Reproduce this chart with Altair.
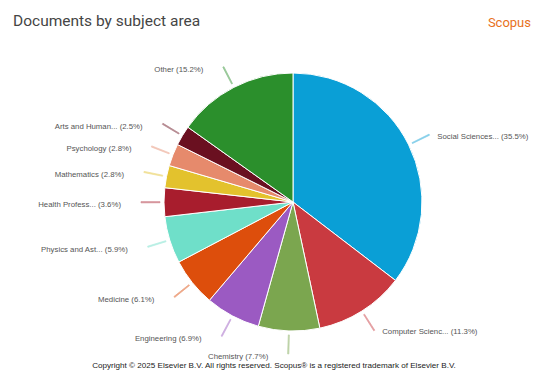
import altair as alt
import pandas as pd

subjects = ["Social Sciences", "Computer Science", "Chemistry", "Engineering", "Medicine",
            "Physics and Astronomy", "Health Professions", "Mathematics", "Psychology",
            "Arts and Humanities", "Other"]
labels = ["Social Sciences...", "Computer Scienc...", "Chemistry", "Engineering", "Medicine",
          "Physics and Ast...", "Health Profess...", "Mathematics", "Psychology",
          "Arts and Human...", "Other"]
shares = [35.5, 11.3, 7.7, 6.9, 6.1, 5.9, 3.6, 2.8, 2.8, 2.5, 15.2]
colors = ["#0a9fd6", "#c93a40", "#7ba64f", "#9b5ac2", "#dd4e0c", "#6fdfc9",
          "#a81d2d", "#e3c22d", "#e68a6c", "#6a1020", "#2b8f2c"]

title_text = "Documents by subject area"
brand_text = "Scopus"
footer_text = "Copyright \u00a9 2025 Elsevier B.V. All rights reserved. Scopus\u00ae is a registered trademark of Elsevier B.V."

df = pd.DataFrame({"subject": subjects, "label": labels, "share": shares,
                   "idx": list(range(len(subjects)))})
total = sum(shares)

CX, CY, R = 293, 202, 129
FONT = "Roboto"
SMALL = "Liberation Sans"

color_scale = alt.Scale(domain=subjects, range=colors)
theta_scale = alt.Scale(domain=[0, total])

base = (
    alt.Chart(df)
    .transform_window(cum="sum(share)", sort=[alt.SortField("idx")], frame=[None, 0])
    .transform_calculate(
        mid="datum.cum - datum.share / 2",
        lab="datum.label + ' (' + format(datum.share, '.1f') + '%)'",
    )
)

pie = base.mark_arc(outerRadius=R, stroke="white", strokeWidth=1).encode(
    theta=alt.Theta("share:Q", stack=True, scale=theta_scale),
    color=alt.Color("subject:N", scale=color_scale, legend=None),
    order=alt.Order("idx:Q"),
    x=alt.value(CX),
    y=alt.value(CY),
)

leaders = (
    base.transform_calculate(t1="datum.mid - 0.06", t2="datum.mid + 0.06")
    .mark_arc(radius=152, radius2=133, strokeWidth=0.8, opacity=0.5)
    .encode(
        theta=alt.Theta("t1:Q", stack=False, scale=theta_scale),
        theta2="t2:Q",
        color=alt.Color("subject:N", scale=color_scale, legend=None),
        stroke=alt.Stroke("subject:N", scale=color_scale, legend=None),
        x=alt.value(CX),
        y=alt.value(CY),
    )
)

half = total / 2
text_right = base.mark_text(align="left", baseline="middle", dx=8, dy=2, fontSize=7.8,
                            color="#555555", font=SMALL).encode(
    theta=alt.Theta("share:Q", stack=True, scale=theta_scale),
    order=alt.Order("idx:Q"),
    radius=alt.value(152),
    text=alt.condition(f"datum.mid < {half}", alt.Text("lab:N"), alt.value("")),
    x=alt.value(CX),
    y=alt.value(CY),
)

text_left = base.mark_text(align="right", baseline="middle", dx=-20, dy=3, fontSize=7.8,
                           color="#555555", font=SMALL).encode(
    theta=alt.Theta("share:Q", stack=True, scale=theta_scale),
    order=alt.Order("idx:Q"),
    radius=alt.value(152),
    text=alt.condition(f"datum.mid >= {half}", alt.Text("lab:N"), alt.value("")),
    x=alt.value(CX),
    y=alt.value(CY),
)

one = pd.DataFrame({"t": [0]})
title = alt.Chart(one).mark_text(align="left", baseline="middle", fontSize=15.5,
                                 color="#454545", font=FONT).encode(
    x=alt.value(13), y=alt.value(21), text=alt.value(title_text))
brand = alt.Chart(one).mark_text(align="right", baseline="middle", fontSize=13,
                                 color="#e8711c", font=FONT).encode(
    x=alt.value(531), y=alt.value(23), text=alt.value(brand_text))
footer = alt.Chart(one).mark_text(align="center", baseline="middle", fontSize=8.1,
                                  color="#222222", font=SMALL).encode(
    x=alt.value(274), y=alt.value(366), text=alt.value(footer_text))

chart = (
    alt.layer(pie, leaders, text_right, text_left, title, brand, footer)
    .properties(width=541, height=374, padding=0, autosize="none", background="white")
    .configure_view(stroke=None)
)

chart.save("out.html", embed_options={"renderer": "svg", "actions": False})
